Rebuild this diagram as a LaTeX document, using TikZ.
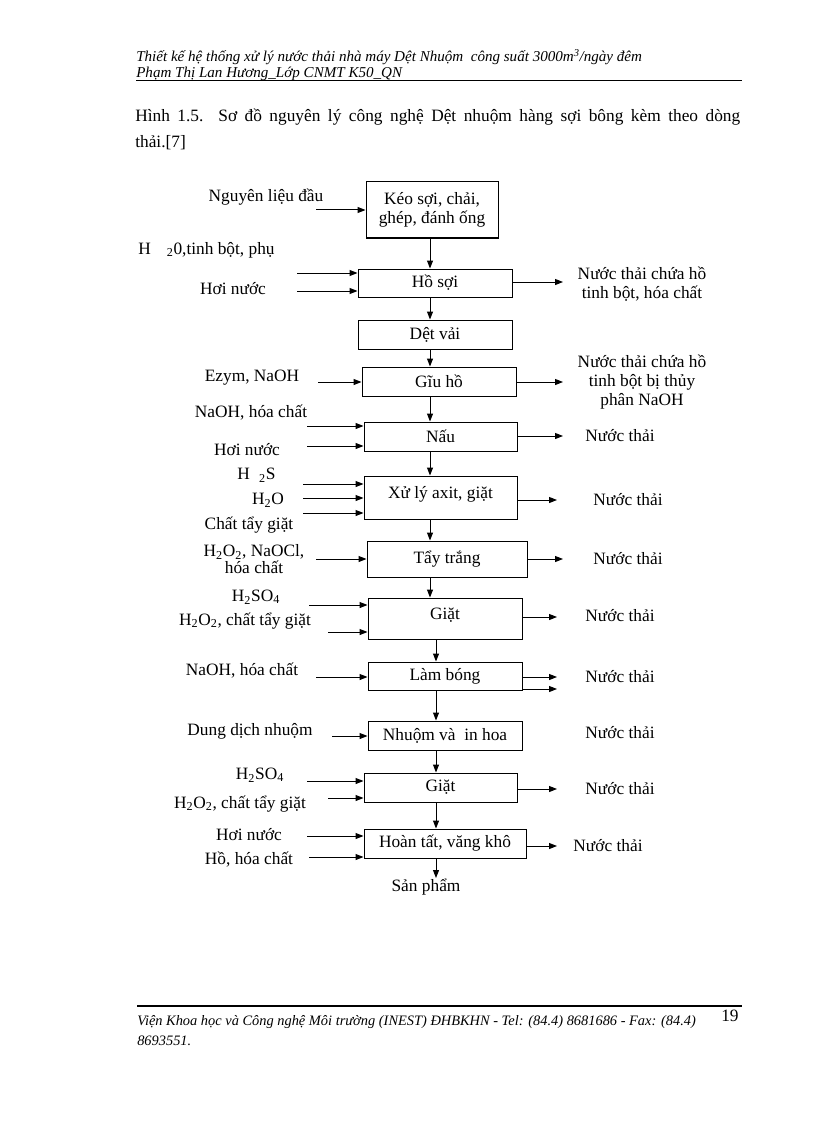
\documentclass[tikz,border=0pt]{standalone}
\usepackage{fontspec}
\setmainfont{Liberation Serif}
\usetikzlibrary{arrows.meta}

\tikzset{
  procbox/.style={draw, line width=0.75pt, inner sep=0pt, align=center, font=\fontsize{13}{14.5}\selectfont},
  txt/.style={inner sep=0.75pt, align=center, font=\fontsize{13}{14.5}\selectfont},
  arr/.style={line width=0.75pt, -{Triangle[length=6pt,width=4.5pt]}},
  pagetxt/.style={anchor=base west, inner sep=0pt, font=\fontsize{11.3}{13}\selectfont\itshape},
  foottxt/.style={anchor=base west, inner sep=0pt, font=\fontsize{10.8}{13}\selectfont\itshape},
}

\begin{document}
\begin{tikzpicture}[x=0.75pt,y=0.75pt,yscale=-1,xscale=1]
%set diagram left start at 0, and has height of 1123
\fill[white] (0,0) rectangle (816,1123);
\path[use as bounding box] (0,0) rectangle (816,1123);

% Page header
\draw (136,62) node (hdra) [pagetxt] {Thiết kế hệ thống xử lý nước thải nhà máy Dệt Nhuộm\ \ công suất 3000m\textsuperscript{3}/ngày đêm};
\draw (136,78) node (hdrb) [pagetxt] {Phạm Thị Lan Hương\_Lớp CNMT K50\_QN};
\draw [line width=0.75pt] (136,80.5) -- (742,80.5);

% Caption
\draw (135,122) node (cap) [anchor=base west, inner sep=0pt, text width=453.75pt, align=justify, font=\fontsize{13}{19.5}\selectfont] {Hình 1.5.\ \ Sơ đồ nguyên lý công nghệ Dệt nhuộm hàng sợi bông kèm theo dòng\linebreak thải.[7]};

%Shape: Rectangle
\draw (432,210) node (keo) [procbox, minimum width=99pt, minimum height=42pt] {Kéo sợi, chải,\\ghép, đánh ống};
%Shape: Rectangle
\draw (435,283) node (ho) [procbox, minimum width=115.5pt, minimum height=21pt] {Hồ sợi};
%Shape: Rectangle
\draw (435,334.5) node (det) [procbox, minimum width=115.5pt, minimum height=21.75pt] {Dệt vải};
%Shape: Rectangle
\draw (439,381.5) node (giu) [procbox, minimum width=115.5pt, minimum height=21.75pt] {Gĩu hồ};
%Shape: Rectangle
\draw (440.5,436.5) node (nau) [procbox, minimum width=114.75pt, minimum height=21.75pt] {Nấu};
%Shape: Rectangle
\draw (440.5,497.5) node (xuly) [procbox, minimum width=114.75pt, minimum height=32.25pt] {\raisebox{7.5pt}{Xử lý axit, giặt}};
%Shape: Rectangle
\draw (447,559) node (tay) [procbox, minimum width=120pt, minimum height=27pt] {Tẩy trắng};
%Shape: Rectangle
\draw (445,618.5) node (giata) [procbox, minimum width=115.5pt, minimum height=30.75pt] {\raisebox{7.5pt}{Giặt}};
%Shape: Rectangle
\draw (445,676) node (lam) [procbox, minimum width=115.5pt, minimum height=21pt] {Làm bóng};
%Shape: Rectangle
\draw (445,735.5) node (nhuom) [procbox, minimum width=115.5pt, minimum height=21.75pt] {Nhuộm và\ \ in hoa};
%Shape: Rectangle
\draw (440.5,787.5) node (giatb) [procbox, minimum width=114.75pt, minimum height=21.75pt] {Giặt};
%Shape: Rectangle
\draw (445,843.5) node (hoan) [procbox, minimum width=121.5pt, minimum height=21.75pt] {Hoàn tất, văng khô};

% Text Node
\draw (426,878) node (sanpham) [txt, anchor=north] {Sản phẩm};

% Text Node
\draw (266,197) node (nguyen) [txt] {Nguyên liệu đầu};
\draw (137,250) node (hoa) [txt, anchor=west] {H\hspace{12pt}\textsubscript{2}0,tinh bột, phụ};
\draw (233,289) node (hoib) [txt] {Hơi nước};
\draw (252,378) node (ezym) [txt] {Ezym, NaOH};
\draw (251,413) node (naoha) [txt] {NaOH, hóa chất};
\draw (247,450) node (hoic) [txt] {Hơi nước};
\draw (236,475) node (hsa) [txt, anchor=west] {H\hspace{7pt}\textsubscript{2}S};
\draw (268,500) node (hnuoc) [txt] {H\textsubscript{2}O};
\draw (249,525) node (chattay) [txt] {Chất tẩy giặt};
\draw (254,559) node (naocl) [txt, font=\fontsize{13}{12.5}\selectfont] {H\textsubscript{2}O\textsubscript{2}, NaOCl,\\hóa chất};
\draw (256,597) node (hsoa) [txt] {H\textsubscript{2}SO\textsubscript{4}};
\draw (245,621) node (hooa) [txt] {H\textsubscript{2}O\textsubscript{2}, chất tẩy giặt};
\draw (242,671) node (naohb) [txt] {NaOH, hóa chất};
\draw (250,731) node (dung) [txt] {Dung dịch nhuộm};
\draw (260,775) node (hsob) [txt] {H\textsubscript{2}SO\textsubscript{4}};
\draw (240,804) node (hoob) [txt] {H\textsubscript{2}O\textsubscript{2}, chất tẩy giặt};
\draw (249,835) node (hoid) [txt] {Hơi nước};
\draw (249,860) node (hohc) [txt] {Hồ, hóa chất};

% Text Node
\draw (642,284) node (nta) [txt] {Nước thải chứa hồ\\tinh bột, hóa chất};
\draw (642,382) node (ntb) [txt] {Nước thải chứa hồ\\tinh bột bị thủy\\phân NaOH};
\draw (620,436) node (ntc) [txt] {Nước thải};
\draw (628,500) node (ntd) [txt] {Nước thải};
\draw (628,559) node (nte) [txt] {Nước thải};
\draw (620,616) node (ntf) [txt] {Nước thải};
\draw (620,677) node (ntg) [txt] {Nước thải};
\draw (620,733) node (nth) [txt] {Nước thải};
\draw (620,789) node (nti) [txt] {Nước thải};
\draw (608,846) node (ntj) [txt] {Nước thải};

% arrow columns and free ends
\coordinate (cola) at (430,0);
\coordinate (colb) at (436,0);
\coordinate (ina) at (316,210);
\coordinate (inb) at (297,273);
\coordinate (inc) at (297,291);
\coordinate (ind) at (318,382);
\coordinate (ine) at (307,426);
\coordinate (inf) at (307,446);
\coordinate (ing) at (303,484);
\coordinate (inh) at (303,498);
\coordinate (ini) at (303,513);
\coordinate (inj) at (316,559);
\coordinate (ink) at (309,605);
\coordinate (inl) at (328,632);
\coordinate (inm) at (316,677);
\coordinate (inn) at (332,736);
\coordinate (ino) at (307,781);
\coordinate (inp) at (328,798);
\coordinate (inq) at (307,836);
\coordinate (inr) at (309,857);
\coordinate (outa) at (563,282);
\coordinate (outb) at (563,382);
\coordinate (outc) at (563,436);
\coordinate (outd) at (557,500);
\coordinate (oute) at (563,559);
\coordinate (outf) at (557,617);
\coordinate (outg) at (557,677);
\coordinate (outh) at (557,689);
\coordinate (outi) at (557,789);
\coordinate (outj) at (557,846);

%Straight Lines: main flow
\draw [arr] (keo.south -| cola) -- (ho.north -| cola);
\draw [arr] (ho.south -| cola) -- (det.north -| cola);
\draw [arr] (det.south -| cola) -- (giu.north -| cola);
\draw [arr] (giu.south -| cola) -- (nau.north -| cola);
\draw [arr] (nau.south -| cola) -- (xuly.north -| cola);
\draw [arr] (xuly.south -| cola) -- (tay.north -| cola);
\draw [arr] (tay.south -| cola) -- (giata.north -| cola);
\draw [arr] (giata.south -| colb) -- (lam.north -| colb);
\draw [arr] (lam.south -| colb) -- (nhuom.north -| colb);
\draw [arr] (nhuom.south -| colb) -- (giatb.north -| colb);
\draw [arr] (giatb.south -| colb) -- (hoan.north -| colb);
\draw [arr] (hoan.south -| colb) -- (sanpham.north -| colb);

%Straight Lines: inputs
\draw [arr] (ina) -- (ina -| keo.west);
\draw [arr] (inb) -- (inb -| ho.west);
\draw [arr] (inc) -- (inc -| ho.west);
\draw [arr] (ind) -- (ind -| giu.west);
\draw [arr] (ine) -- (ine -| nau.west);
\draw [arr] (inf) -- (inf -| nau.west);
\draw [arr] (ing) -- (ing -| xuly.west);
\draw [arr] (inh) -- (inh -| xuly.west);
\draw [arr] (ini) -- (ini -| xuly.west);
\draw [arr] (inj) -- (inj -| tay.west);
\draw [arr] (ink) -- (ink -| giata.west);
\draw [arr] (inl) -- (inl -| giata.west);
\draw [arr] (inm) -- (inm -| lam.west);
\draw [arr] (inn) -- (inn -| nhuom.west);
\draw [arr] (ino) -- (ino -| giatb.west);
\draw [arr] (inp) -- (inp -| giatb.west);
\draw [arr] (inq) -- (inq -| hoan.west);
\draw [arr] (inr) -- (inr -| hoan.west);

%Straight Lines: outputs
\draw [arr] (outa -| ho.east) -- (outa);
\draw [arr] (outb -| giu.east) -- (outb);
\draw [arr] (outc -| nau.east) -- (outc);
\draw [arr] (outd -| xuly.east) -- (outd);
\draw [arr] (oute -| tay.east) -- (oute);
\draw [arr] (outf -| giata.east) -- (outf);
\draw [arr] (outg -| lam.east) -- (outg);
\draw [arr] (outh -| lam.east) -- (outh);
\draw [arr] (outi -| giatb.east) -- (outi);
\draw [arr] (outj -| hoan.east) -- (outj);

% Page footer
\draw [line width=1.5pt] (137,1006) -- (742,1006);
\draw (137,1025) node (ftra) [foottxt] {Viện Khoa học và Công nghệ Môi trường (INEST) ĐHBKHN - Tel: (84.4) 8681686 - Fax: (84.4)};
\draw (137,1045) node (ftrb) [foottxt] {8693551.};
\draw (721,1021) node (pgno) [anchor=base west, inner sep=0pt, font=\fontsize{13}{15}\selectfont] {19};

\end{tikzpicture}
\end{document}
